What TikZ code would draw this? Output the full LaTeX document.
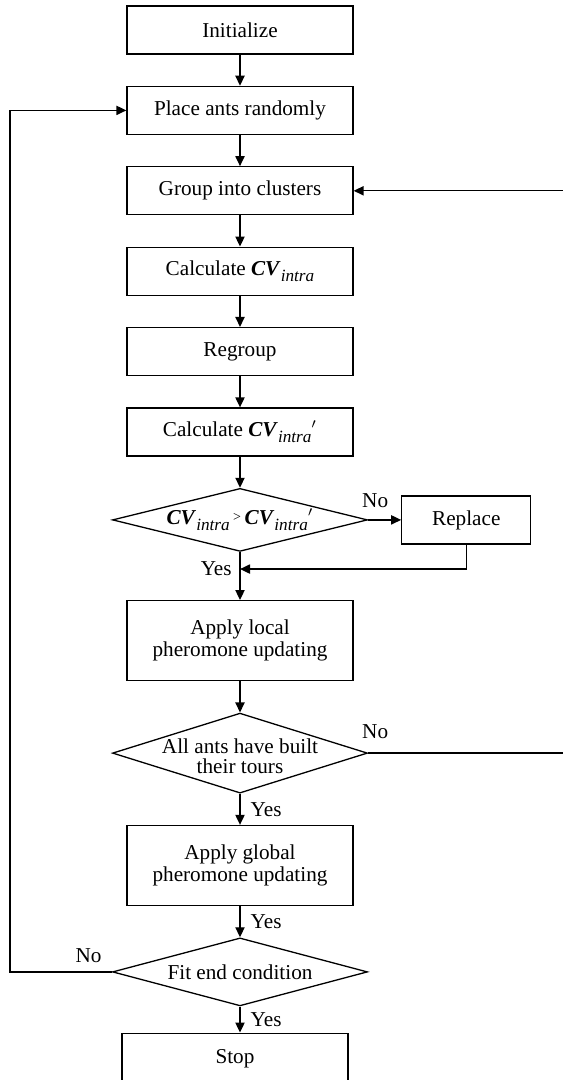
\documentclass[tikz,border=0pt]{standalone}
\usepackage{fontspec}
\setmainfont{Liberation Serif}
\usetikzlibrary{arrows.meta,positioning,shapes.geometric}
\newcommand{\cvi}{\textbf{\textit{CV}}\raisebox{-0.3em}{\fontsize{8.6}{9}\selectfont\textit{intra}}}
\tikzset{
  proc/.style={rectangle,draw=black,line width=0.65pt,minimum width=113pt,
               minimum height=24pt,align=center,inner sep=2pt},
  tall/.style={proc,minimum height=40pt},
  cond/.style={diamond,draw=black,line width=0.65pt,minimum width=127.5pt,
               inner sep=-3pt,align=center},
  flow/.style={-{Triangle[length=5pt,width=4.6pt]},line width=0.7pt},
  tag/.style={inner sep=2pt},
}

\begin{document}
\begin{tikzpicture}[node distance=15.55pt,font=\fontsize{10.6}{11}\selectfont]
  \useasboundingbox (0,0) rectangle (281pt,-540pt);
  % main column
  \node[proc] (init) at (120pt,-15pt) {Initialize};
  \node[proc,below=of init] (place) {Place ants randomly};
  \node[proc,below=of place] (group) {Group into clusters};
  \node[proc,below=of group] (calc) {Calculate \cvi};
  \node[proc,below=of calc] (regroup) {Regroup};
  \node[proc,below=of regroup] (calc2) {Calculate \cvi$'$};
  \node[cond,minimum height=31.5pt,aspect=4,below=of calc2] (cmp)
       {\cvi\,{\scriptsize\raisebox{.2em}{>}}\,\cvi$'$};
  \node[proc,minimum width=64.5pt,right=16.5pt of cmp] (replace) {Replace};
  \node[tall,below=24pt of cmp] (local) {Apply local\\pheromone updating};
  \node[cond,minimum height=40pt,aspect=3.2,below=of local] (tours)
       {\rule{0pt}{10pt}All ants have built\\[-1pt]their tours};
  \node[tall,below=of tours] (global) {Apply global\\pheromone updating};
  \node[cond,minimum height=34pt,aspect=3.75,below=of global] (fitend) {Fit end condition};
  \node[proc,minimum height=26pt,below=13pt of fitend,xshift=-2.5pt] (stop) {Stop};

  % helper points
  \coordinate[below=8.5pt of cmp.south] (j1);
  \coordinate[right=110pt of tours.east] (rc);
  \coordinate[left=51pt of fitend.west] (lc);

  % straight flow
  \draw[flow] (init) -- (place);
  \draw[flow] (place) -- (group);
  \draw[flow] (group) -- (calc);
  \draw[flow] (calc) -- (regroup);
  \draw[flow] (regroup) -- (calc2);
  \draw[flow] (calc2) -- (cmp);
  \draw[flow] (cmp) -- (replace);
  \draw[flow] (cmp) -- (local);
  \draw[flow] (replace.south) |- (j1);
  \draw[flow] (local) -- (tours);
  \draw[flow] (tours) -- node[tag,right=3pt] (yes2) {Yes} (global);
  \draw[flow] (global) -- node[tag,right=3pt] (yes3) {Yes} (fitend);
  \draw[flow] (fitend.south) -- node[tag,right=3pt] (yes4) {Yes} (fitend.south |- stop.north);

  % loops back
  \draw[flow] (tours.east) -- (rc) |- (group.east);
  \draw[flow] (fitend.west) -- (lc) |- (place.west);

  % labels
  \node[tag,above=4pt of cmp.east,xshift=3.5pt] (no1) {No};
  \node[tag,left=2pt of j1] (yes1) {Yes};
  \node[tag,above=5pt of tours.east,xshift=3.5pt] (no2) {No};
  \node[tag,above left=2.5pt and 3pt of fitend.west] (no3) {No};
\end{tikzpicture}
\end{document}
